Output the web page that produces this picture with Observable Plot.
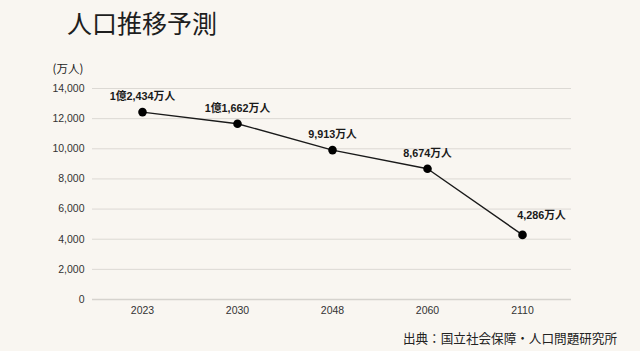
<!DOCTYPE html>
<html>
<head>
<meta charset="utf-8">
<script src="https://cdn.jsdelivr.net/npm/d3@7"></script>
<script src="https://cdn.jsdelivr.net/npm/@observablehq/plot@0.6"></script>
<style>
  html, body { margin: 0; padding: 0; background: #f9f6f1; }
  body { width: 640px; height: 351px; overflow: hidden; font-family: "Liberation Sans", "Noto Sans CJK JP", sans-serif; }
  #title { height: 44px; line-height: 44px; padding-left: 67px; font-size: 25px; color: #1e1e1e; font-family: "Noto Sans CJK JP", sans-serif; font-weight: 400; }
  #caption { height: 27px; line-height: 27px; text-align: right; padding-right: 23px; font-size: 12.6px; color: #222; font-family: "Noto Sans CJK JP", sans-serif; }
  svg { display: block; background: transparent; }
</style>
</head>
<body>
<div id="title">人口推移予測</div>
<div id="chart"></div>
<div id="caption">出典：国立社会保障・人口問題研究所</div>
<script>
const years = ["2023", "2030", "2048", "2060", "2110"];
const population = [12434, 11662, 9913, 8674, 4286];
const yTicks = [0, 2000, 4000, 6000, 8000, 10000, 12000, 14000];
const unitLabel = "(万人)";

const data = years.map((y, i) => ({year: y, value: population[i]}));
const fmt = d3.format(",");
const labelOf = v => v >= 10000 ? `1億${fmt(v - 10000)}万人` : `${fmt(v)}万人`;
const lastIdx = data.length - 1;

const chart = Plot.plot({
  width: 640,
  height: 280,
  marginTop: 44,
  marginBottom: 25,
  marginLeft: 92,
  marginRight: 69,
  style: {background: "transparent", fontFamily: "Liberation Sans, Noto Sans CJK JP, sans-serif"},
  x: {type: "point", domain: years, padding: 0.5, label: null},
  y: {domain: [0, 14000], label: null},
  marks: [
    Plot.gridY(yTicks, {stroke: "#dcd9d4", strokeOpacity: 1, strokeWidth: 1}),
    Plot.ruleY([0], {stroke: "#d6d3ce", strokeWidth: 1.5}),
    Plot.axisY({ticks: yTicks, tickSize: 0, tickPadding: 8, tickFormat: d => fmt(d), fontSize: 10.5, color: "#333", label: null}),
    Plot.axisX({tickSize: 0, tickPadding: 7, fontSize: 10.5, color: "#333", label: null}),
    Plot.text([unitLabel], {frameAnchor: "top-left", dx: -40, dy: -24, textAnchor: "start", fontSize: 11.5, fill: "#222", fontFamily: "Noto Sans CJK JP, sans-serif"}),
    Plot.line(data, {x: "year", y: "value", stroke: "#1a1a1a", strokeWidth: 1.4}),
    Plot.dot(data, {x: "year", y: "value", r: 4.3, fill: "#000", stroke: "none"}),
    Plot.text(data.slice(0, lastIdx), {x: "year", y: "value", text: d => labelOf(d.value), dy: -15.5, fontSize: 10.8, fontWeight: "bold", fill: "#1a1a1a"}),
    Plot.text(data.slice(lastIdx), {x: "year", y: "value", text: d => labelOf(d.value), dx: 19, dy: -19, fontSize: 10.8, fontWeight: "bold", fill: "#1a1a1a"})
  ]
});
document.getElementById("chart").appendChild(chart);
</script>
</body>
</html>
